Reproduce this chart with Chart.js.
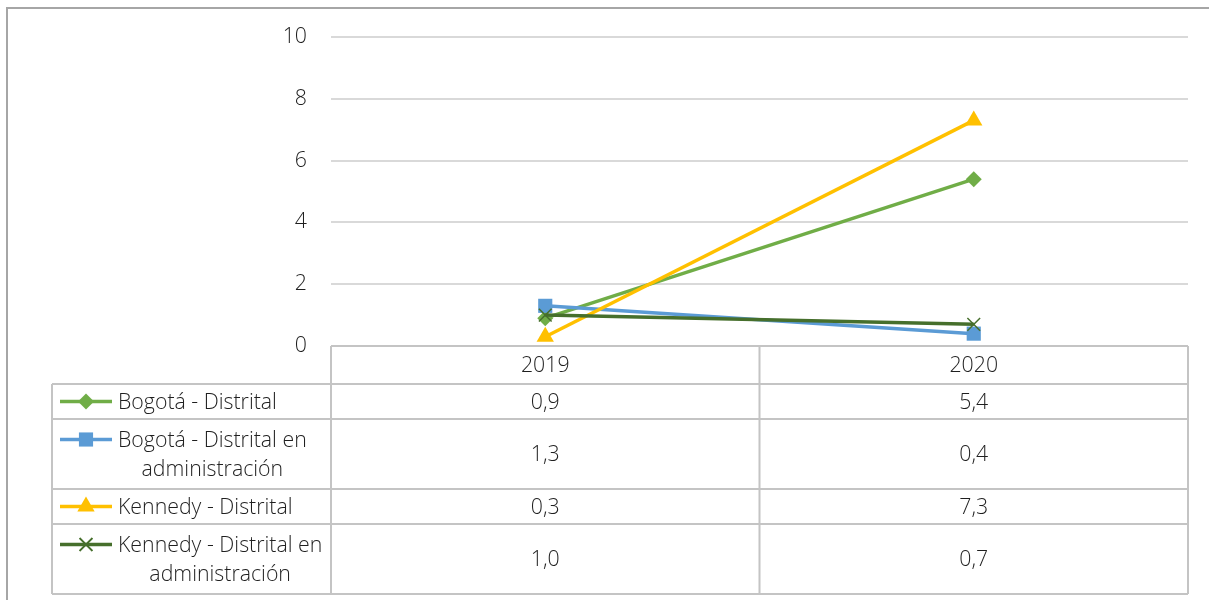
<!DOCTYPE html>
<html><head><meta charset="utf-8">
<script src="https://cdn.jsdelivr.net/npm/chart.js@4/dist/chart.umd.min.js"></script>
<style>html,body{margin:0;padding:0;background:#fff}</style></head>
<body><canvas id="c" width="1209" height="600"></canvas>
<script>
// ---- data ----
const years = ['2019', '2020'];
const seriesLabels = [
  ['Bogotá - Distrital'],
  ['Bogotá - Distrital en', 'administración'],
  ['Kennedy - Distrital'],
  ['Kennedy - Distrital en', 'administración']
];
const bogotaDistrital = [0.9, 5.4];
const bogotaAdmin = [1.3, 0.4];
const kennedyDistrital = [0.3, 7.3];
const kennedyAdmin = [1.0, 0.7];
const yTickValues = [0, 2, 4, 6, 8, 10];

// ---- styles ----
const colors = ['#70AD47', '#5B9BD5', '#FFC000', '#466F2C'];
const markers = ['rectRot', 'rect', 'triangle', 'crossRot'];
const markerRadius = [8, 10, 10, 9];
const FONT_FAMILY = '"Open Sans", "DejaVu Sans", sans-serif';
const FONT_SIZE = 21.3;
const FONT_WEIGHT = '300';
const TEXT = '#1f1f1f';
const TABLE_LINE = '#c4c4c4';

const seriesData = [bogotaDistrital, bogotaAdmin, kennedyDistrital, kennedyAdmin];

const datasets = seriesData.map((d, i) => ({
  label: seriesLabels[i].join(' '),
  data: d,
  borderColor: colors[i],
  backgroundColor: colors[i],
  borderWidth: 3.5,
  pointStyle: markers[i],
  pointRadius: markerRadius[i],
  pointHoverRadius: markerRadius[i],
  pointBorderWidth: markers[i] === 'crossRot' ? 1.5 : 0,
  pointBorderColor: colors[i],
  pointBackgroundColor: colors[i],
  tension: 0,
  order: seriesData.length - i,
  clip: false
}));

const fmt = v => v.toFixed(1).replace('.', ',');

const tablePlugin = {
  id: 'dataTable',
  afterDraw(chart) {
    const ctx = chart.ctx, ca = chart.chartArea, xs = chart.scales.x;
    ctx.save();
    ctx.strokeStyle = '#a6a6a6';
    ctx.lineWidth = 2;
    ctx.strokeRect(7, 8, 1400, 800);

    const left = 52;
    const centers = years.map((_, j) => xs.getPixelForValue(j));
    const mid = (centers[0] + centers[1]) / 2;
    const headerH = 38;
    const rowH = seriesLabels.map(l => l.length === 1 ? 35 : 70);
    const top = ca.bottom;
    const rowTops = [];
    let y = top + headerH;
    rowH.forEach(h => { rowTops.push(y); y += h; });
    const bottom = y;

    ctx.strokeStyle = TABLE_LINE;
    ctx.lineWidth = 2;
    ctx.beginPath();
    ctx.moveTo(ca.left, top); ctx.lineTo(ca.right, top);
    rowTops.forEach(t => { ctx.moveTo(left, t); ctx.lineTo(ca.right, t); });
    ctx.moveTo(left, bottom); ctx.lineTo(ca.right, bottom);
    ctx.moveTo(left, top + headerH); ctx.lineTo(left, bottom);
    [ca.left, mid, ca.right].forEach(x => { ctx.moveTo(x, top); ctx.lineTo(x, bottom); });
    ctx.stroke();

    ctx.font = FONT_WEIGHT + ' ' + FONT_SIZE + 'px ' + FONT_FAMILY;
    ctx.fillStyle = TEXT;
    ctx.textBaseline = 'middle';
    ctx.textAlign = 'center';
    years.forEach((yr, j) => ctx.fillText(yr, centers[j], top + headerH / 2 + 1));

    const lineH = 29;
    seriesLabels.forEach((lines, i) => {
      const t = rowTops[i], h = rowH[i];
      const blockTop = t + (h - lines.length * lineH) / 2;
      const firstY = blockTop + lineH / 2;
      ctx.strokeStyle = colors[i];
      ctx.lineWidth = 3.5;
      ctx.beginPath();
      ctx.moveTo(60, firstY); ctx.lineTo(112, firstY);
      ctx.stroke();
      ctx.fillStyle = colors[i];
      ctx.strokeStyle = colors[i];
      ctx.lineWidth = markers[i] === 'crossRot' ? 1.5 : 0;
      Chart.helpers.drawPoint(ctx, {pointStyle: markers[i], radius: markerRadius[i], rotation: 0, borderWidth: markers[i] === 'crossRot' ? 1.5 : 0}, 86, firstY);
      if (markers[i] === 'crossRot') ctx.stroke();
      ctx.fillStyle = TEXT;
      ctx.textAlign = 'center';
      const bw = Math.max(...lines.map(s => ctx.measureText(s).width));
      lines.forEach((s, k) => ctx.fillText(s, 118 + bw / 2, firstY + k * lineH + 1));
      seriesData[i].forEach((v, j) => ctx.fillText(fmt(v), centers[j], t + h / 2 + 1));
    });
    ctx.restore();
  }
};

new Chart(document.getElementById('c'), {
  type: 'line',
  data: { labels: years, datasets },
  options: {
    responsive: false,
    animation: false,
    events: [],
    layout: { padding: { top: 37, right: 21, bottom: 254, left: 0 } },
    plugins: { legend: { display: false }, tooltip: { enabled: false } },
    scales: {
      x: { type: 'category', offset: true, display: false },
      y: {
        min: 0, max: 10,
        afterBuildTicks: s => { s.ticks = yTickValues.map(v => ({ value: v })); },
        afterFit: s => { s.width = 331; },
        border: { display: false },
        grid: { color: '#d9d9d9', lineWidth: 2, drawTicks: false },
        ticks: { padding: 24, color: TEXT, font: { family: FONT_FAMILY, size: FONT_SIZE, weight: FONT_WEIGHT } }
      }
    }
  },
  plugins: [tablePlugin]
});
</script>
</body></html>
